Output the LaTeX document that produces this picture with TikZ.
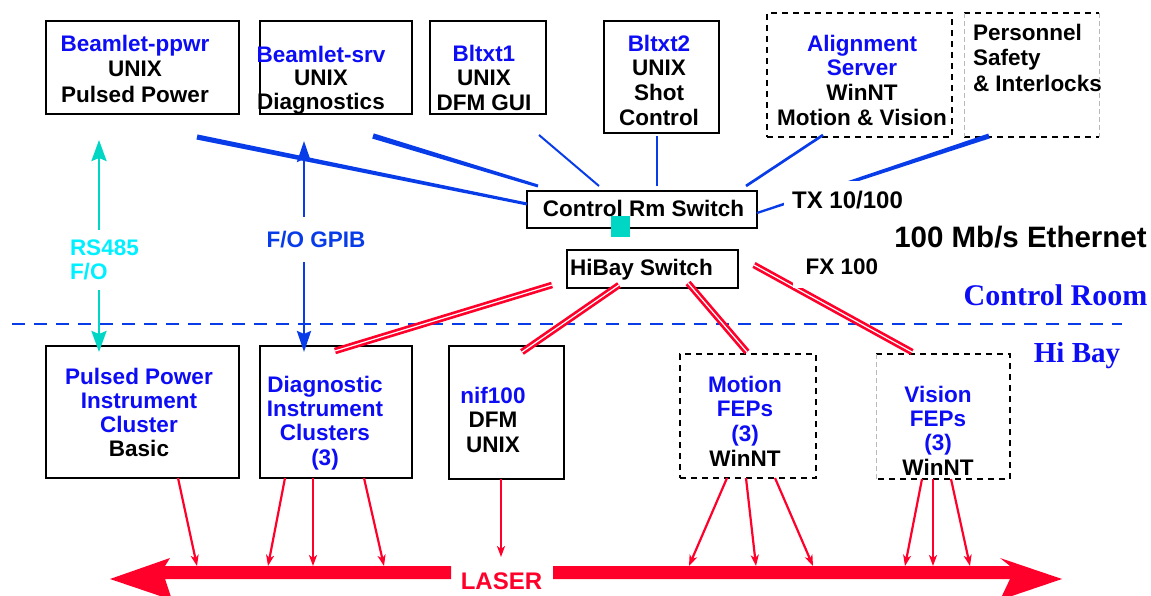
\documentclass[tikz,border=0pt]{standalone}
\usepackage{fontspec}
\setmainfont{Liberation Sans}
\newfontfamily\serifbf{Liberation Serif}
\usetikzlibrary{arrows.meta,calc}

\definecolor{lineblue}{RGB}{8,60,232}
\definecolor{txtblue}{RGB}{12,12,245}
\definecolor{laserred}{RGB}{255,0,42}
\definecolor{tealc}{RGB}{0,214,196}
\definecolor{rscyan}{RGB}{0,240,255}
\definecolor{edgegray}{RGB}{185,185,185}

% tapered blue link: from #1 (half width #3) to #2 (half width #4)
\newcommand{\taperline}[4]{\fill[lineblue] ($(#1)!#3!90:(#2)$) -- ($(#2)!#4!-90:(#1)$) -- ($(#2)!#4!90:(#1)$) -- ($(#1)!#3!-90:(#2)$) -- cycle;}

\begin{document}
\begin{tikzpicture}[x=1pt,y=-1pt,
  every node/.style={inner sep=0pt,outer sep=0pt,text depth=0pt},
  sbox/.style={draw=black,line width=2.4pt},
  dbk/.style={draw=black,line width=2.4pt,dash pattern=on 6pt off 5pt},
  gedge/.style={draw=edgegray,line width=0.8pt,dash pattern=on 5pt off 3pt},
  lbl/.style={font=\fontsize{22.5}{24.7}\selectfont\bfseries,align=center},
  thin/.style={draw=lineblue,line width=#1},
  tarrow/.style={draw=tealc,line width=2.8pt,
    {Stealth[length=21pt,width=15pt,inset=3pt]}-{Stealth[length=21pt,width=15pt,inset=3pt]}},
  barrow/.style={draw=lineblue,line width=2.7pt,
    {Stealth[length=21pt,width=14pt,inset=3pt]}-{Stealth[length=21pt,width=14pt,inset=3pt]}},
  rarrow/.style={draw=laserred,line width=2.2pt,-{Stealth[length=11pt,width=8pt,inset=3pt]}},
  dbl/.style={draw=laserred,line width=2.7pt,double=white,double distance=1.2pt},
  cover/.style={fill=white}
]
\useasboundingbox (0,0) rectangle (1151,596);

% ---------- boxes ----------
\node[sbox,minimum width=193pt,minimum height=93pt] (ppwr) at (142.5,67.5) {};
\node[sbox,minimum width=152pt,minimum height=93pt] (srv)  at (336,67.5) {};
\node[sbox,minimum width=116pt,minimum height=93pt] (bl1)  at (488,67.5) {};
\node[sbox,minimum width=115pt,minimum height=112pt] (bl2) at (661.5,77) {};
\node[dbk,minimum width=185pt,minimum height=124pt] (aln)  at (859.5,75) {};
\node[minimum width=135pt,minimum height=124pt] (pers) at (1031.5,75) {};
\draw[dbk] (pers.north west) -- (pers.north east);
\draw[dbk] (pers.south west) -- (pers.south east);
\draw[gedge] (pers.north west) -- (pers.south west);
\draw[gedge] (pers.north east) -- (pers.south east);

\node[sbox,minimum width=193pt,minimum height=132pt] (pp)  at (142.5,412) {};
\node[sbox,minimum width=152pt,minimum height=132pt] (dic) at (336,412) {};
\node[sbox,minimum width=115pt,minimum height=133pt] (nif) at (506.5,412.5) {};
\node[dbk,minimum width=136pt,minimum height=124pt] (mot)  at (748,416) {};
\node[minimum width=134pt,minimum height=125pt] (vis) at (943,416.5) {};
\draw[dbk] (vis.north west) -- (vis.north east) -- (vis.south east) -- (vis.south west);
\draw[gedge] (vis.north west) -- (vis.south west);

\node[sbox,fill=white,minimum width=230pt,minimum height=37pt] (crs) at (642,209.5) {};
\node[sbox,fill=white,minimum width=171pt,minimum height=38pt] (hbs) at (652.5,269) {};

% ---------- 100 Mb/s links to the control room switch ----------
\coordinate (p1) at (197,137);
\coordinate (p2) at (373,136); \coordinate (q2) at (538,186);
\coordinate (p3) at (539,135); \coordinate (q3) at (599,186);
\coordinate (p4) at (657,136); \coordinate (q4) at (657,186);
\coordinate (p5) at (823,135); \coordinate (q5) at (746,186);
\coordinate (p6) at (989,136);
\coordinate (q1) at ([yshift=5.5pt]crs.west);
\coordinate (q6) at ([yshift=-3.5pt]crs.east);

\taperline{p1}{q1}{2.6pt}{1.5pt}
\taperline{p2}{q2}{2.7pt}{1.5pt}
\taperline{p6}{q6}{2.5pt}{1.1pt}
\draw[thin=2pt] (p3) -- (q3);
\draw[thin=2.5pt] (p4) -- (q4);
\draw[thin=2.7pt] (p5) -- (q5);

\node[cover,minimum width=127pt,minimum height=38pt,font=\fontsize{24}{24}\selectfont\bfseries] (tx) at (847.5,200) {TX 10/100};

% ---------- room divider ----------
\coordinate (w1) at (12,324); \coordinate (w2) at (1122,324);
\draw[lineblue,line width=2.2pt,dash pattern=on 13pt off 9pt] (w1) -- (w2);

% ---------- serial / GPIB links ----------
\draw[tarrow] ([xshift=-43.5pt,yshift=-26pt]ppwr.south) -- ([xshift=-43.5pt,yshift=-6pt]pp.north);
\draw[barrow] ([xshift=-32pt,yshift=-27pt]srv.south) -- ([xshift=-32pt,yshift=-6pt]dic.north);
\node[cover,anchor=west,align=left,minimum height=60pt,text=rscyan,
  font=\fontsize{22.5}{24}\selectfont\bfseries] (rs) at (70,260) {RS485\\F/O};
\node[cover,minimum height=45pt,text=lineblue,
  font=\fontsize{22.5}{24}\selectfont\bfseries] (gpib) at (316,239.5) {F/O GPIB};

% ---------- 100 Mb/s fibre links from the hi-bay switch ----------
\coordinate (h1) at (552,285);
\coordinate (h2) at (619,285);
\coordinate (h3) at (688,283);
\coordinate (h4) at (754,265);
\draw[dbl] (h1) -- ([xshift=-1pt,yshift=-5pt]dic.north);
\draw[dbl] (h2) -- ([xshift=15.5pt,yshift=-6pt]nif.north);
\draw[dbl] (h3) -- ([xshift=-1pt,yshift=2pt]mot.north);
\draw[dbl] (h4) -- ([xshift=-31pt,yshift=2pt]vis.north);

\node[cover,minimum width=98pt,minimum height=42pt,font=\fontsize{22.5}{24}\selectfont\bfseries] (fx) at (842,267) {FX 100};

% ---------- switch labels ----------
\node[fill=tealc,minimum width=19pt,minimum height=21pt] (tap) at (620.5,226.5) {};
\node[font=\fontsize{22.5}{24}\selectfont\bfseries] (crsT) at (643.5,208) {Control Rm Switch};
\node[font=\fontsize{22.5}{24}\selectfont\bfseries] (hbsT) at (641.5,267) {HiBay Switch};

% ---------- box texts ----------
\node[lbl,font=\fontsize{22.5}{25.5}\selectfont\bfseries] (ppwrT) at (135,68.5)
  {\textcolor{txtblue}{Beamlet-ppwr}\\UNIX\\Pulsed Power};
\node[lbl,font=\fontsize{22.5}{23.5}\selectfont\bfseries] (srvT) at (321,77.5)
  {\textcolor{txtblue}{Beamlet-srv}\\UNIX\\Diagnostics};
\node[lbl,font=\fontsize{22.5}{24.5}\selectfont\bfseries] (bl1T) at (484,77.5)
  {\textcolor{txtblue}{Bltxt1}\\UNIX\\DFM GUI};
\node[lbl] (bl2T) at (659,80)
  {\textcolor{txtblue}{Bltxt2}\\UNIX\\Shot\\Control};
\node[lbl] (alnT) at (862,80)
  {\textcolor{txtblue}{Alignment}\\\textcolor{txtblue}{Server}\\WinNT\\Motion \& Vision};
\node[lbl,align=left,anchor=west,font=\fontsize{22.5}{25.5}\selectfont\bfseries] (persT) at (973,57.5)
  {Personnel\\Safety\\\& Interlocks};

\node[lbl,font=\fontsize{22.5}{24}\selectfont\bfseries] (ppT) at (139,412)
  {\textcolor{txtblue}{Pulsed Power}\\\textcolor{txtblue}{Instrument}\\\textcolor{txtblue}{Cluster}\\Basic};
\node[lbl,text=txtblue,font=\fontsize{22.5}{24.3}\selectfont\bfseries] (dicT) at (325,420.5)
  {Diagnostic\\Instrument\\Clusters\\(3)};
\node[lbl,font=\fontsize{22.5}{24.5}\selectfont\bfseries] (nifT) at (493,419.5)
  {\textcolor{txtblue}{nif100}\\DFM\\UNIX};
\node[lbl] (motT) at (745,421)
  {\textcolor{txtblue}{Motion}\\\textcolor{txtblue}{FEPs}\\\textcolor{txtblue}{(3)}\\WinNT};
\node[lbl,font=\fontsize{22.5}{24.3}\selectfont\bfseries] (visT) at (938,430.5)
  {\textcolor{txtblue}{Vision}\\\textcolor{txtblue}{FEPs}\\\textcolor{txtblue}{(3)}\\WinNT};

% ---------- area labels ----------
\node[font=\fontsize{29.5}{30}\selectfont\bfseries] (eth) at (1020.5,237) {100 Mb/s Ethernet};
\node[text=txtblue,font=\fontsize{30}{30}\selectfont\serifbf\bfseries] (croom) at (1055.5,295) {Control Room};
\node[text=txtblue,font=\fontsize{29}{30}\selectfont\serifbf\bfseries] (hibay) at (1077,352) {Hi Bay};

% ---------- laser beamline ----------
\fill[laserred] (110,579) -- (170,558) -- (165,566) -- (451,566) -- (451,579)
  -- (165,579) -- (172,600) -- cycle;
\fill[laserred] (553,566) -- (1010,566) -- (1000,558) -- (1062,579) -- (1000,600)
  -- (1010,579) -- (553,579) -- cycle;
\node[text=laserred,font=\fontsize{24}{24}\selectfont\bfseries] (laser) at (501.5,581) {LASER};

\coordinate (t1) at (197,566);
\coordinate (t2) at (268,566); \coordinate (t3) at (313,566); \coordinate (t4) at (384,566);
\coordinate (t5) at (501,557);
\coordinate (t6) at (689,566); \coordinate (t7) at (756,566); \coordinate (t8) at (813,566);
\coordinate (t9) at (905,566); \coordinate (t10) at (933,566); \coordinate (t11) at (970,566);

\draw[rarrow] ([xshift=35.5pt]pp.south) -- (t1);
\draw[rarrow] ([xshift=-51pt]dic.south) -- (t2);
\draw[rarrow] ([xshift=-23pt]dic.south) -- (t3);
\draw[rarrow] ([xshift=28pt]dic.south) -- (t4);
\draw[rarrow] ([xshift=-5.5pt]nif.south) -- (t5);
\draw[rarrow] ([xshift=-21pt]mot.south) -- (t6);
\draw[rarrow] ([xshift=-2pt]mot.south) -- (t7);
\draw[rarrow] ([xshift=27pt]mot.south) -- (t8);
\draw[rarrow] ([xshift=-21pt]vis.south) -- (t9);
\draw[rarrow] ([xshift=-10pt]vis.south) -- (t10);
\draw[rarrow] ([xshift=8pt]vis.south) -- (t11);
\end{tikzpicture}
\end{document}
